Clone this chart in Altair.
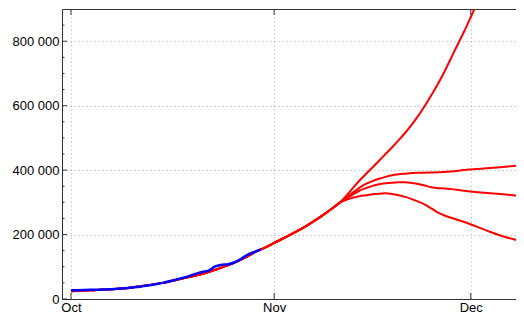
import altair as alt
import pandas as pd

# ---- data (days counted from 1 Oct) ----
blue_days = list(range(0, 30))
blue_values = [27000, 27500, 28000, 28500, 29000, 29500, 30000, 31500, 33000, 35000,
               37000, 40000, 43000, 46500, 50000, 55000, 60000, 65000, 71000, 78000,
               84000, 88000, 101000, 106000, 108000, 114000, 125000, 138000, 146000, 154000]

trunk_days = [0, 3, 6, 9, 11, 14, 16, 18, 21, 24, 27, 28, 30, 31, 34, 36, 38, 40, 41]
trunk_values = [24000, 27000, 30000, 35000, 40000, 50000, 59000, 68000, 84000, 105000,
                133000, 145000, 163000, 174000, 205000, 228000, 254000, 283000, 299000]

exp_days = [42, 43, 44, 45, 46, 47, 48, 49, 50, 51, 52, 53, 54, 55, 56, 57, 58, 59, 60, 61, 62, 63]
exp_values = [320000, 344000, 367000, 388000, 408000, 429000, 450000, 471000, 493000, 516000,
              541000, 569000, 600000, 633000, 668000, 706000, 748000, 790000, 831000, 875000,
              920000, 968000]

top_days = [42, 43, 44, 45, 46, 47, 48, 49, 50, 51, 52, 54, 56, 58, 60, 63, 66, 69]
top_values = [314000, 330000, 345000, 357000, 366000, 373000, 379000, 384000, 387000, 389000,
              391000, 392000, 393000, 396000, 400000, 405000, 410000, 415000]

mid_days = [42, 43, 44, 45, 46, 47, 48, 49, 50, 51, 52, 53, 54, 55, 56, 57, 58, 60, 63, 66, 69]
mid_values = [311000, 324000, 336000, 344000, 351000, 356000, 359000, 361000, 362000, 362000,
              360000, 357000, 352000, 347000, 344000, 343000, 341000, 336000, 330000, 325000, 319000]

low_days = [42, 43, 44, 45, 46, 47, 48, 49, 50, 51, 52, 53, 54, 55, 56, 57, 58, 60, 62, 64, 66, 69]
low_values = [308000, 314000, 319000, 322000, 325000, 327000, 328000, 326000, 322000, 317000,
              310000, 302000, 293000, 281000, 268000, 259000, 252000, 239000, 224000, 208000,
              194000, 178000]

month_days = [0, 31, 61]
month_labels = ["Oct", "Nov", "Dec"]
y_tick_values = [0, 200000, 400000, 600000, 800000]
y_tick_labels = ["0", "200 000", "400 000", "600 000", "800 000"]
y_minor_values = [50000, 100000, 150000, 250000, 300000, 350000, 450000, 500000, 550000,
                  650000, 700000, 750000, 850000]

# ---- tables ----
rows = []
for name, d, v in [("exp", exp_days, exp_values), ("top", top_days, top_values),
                   ("mid", mid_days, mid_values), ("low", low_days, low_values)]:
    for dd, vv in zip(trunk_days + d, trunk_values + v):
        rows.append({"series": name, "day": dd, "value": vv})
red_df = pd.DataFrame(rows)
blue_df = pd.DataFrame({"day": blue_days, "value": blue_values})
month_df = pd.DataFrame({"day": month_days})
ymaj_df = pd.DataFrame({"v": y_tick_values})
ymin_df = pd.DataFrame({"v": y_minor_values})

def ternary(vals, labels):
    expr = "''"
    for v, l in reversed(list(zip(vals, labels))):
        expr = f"datum.value == {v} ? '{l}' : ({expr})"
    return expr

PLOT_W = 454
PLOT_H = 290
x_scale = alt.Scale(domain=[-1.37, 67.9], nice=False, zero=False)
y_scale = alt.Scale(domain=[0, 900000], nice=False, zero=False)

grid_style = dict(grid=True, gridColor="#a8a8a8", gridDash=[1, 3], gridWidth=1)

red = alt.Chart(red_df).mark_line(color="#ff0000", strokeWidth=2, clip=True,
                                  interpolate="monotone").encode(
    x=alt.X("day:Q", scale=x_scale,
            axis=alt.Axis(values=month_days, labelExpr=ternary(month_days, month_labels),
                          ticks=False, labelPadding=2, title=None, orient="bottom",
                          **grid_style)),
    y=alt.Y("value:Q", scale=y_scale,
            axis=alt.Axis(values=y_tick_values, labelExpr=ternary(y_tick_values, y_tick_labels),
                          ticks=False, labelPadding=3, title=None, orient="left",
                          **grid_style)),
    detail="series:N",
)

blue = alt.Chart(blue_df).mark_line(color="#0000ff", strokeWidth=2.5, clip=True,
                                    interpolate="monotone").encode(
    x=alt.X("day:Q", scale=x_scale, axis=None),
    y=alt.Y("value:Q", scale=y_scale, axis=None),
)

ymaj = alt.Chart(ymaj_df).mark_rule(color="#333333", strokeWidth=1).encode(
    y=alt.Y("v:Q", scale=y_scale, axis=None), x=alt.value(0), x2=alt.value(5))
ymin = alt.Chart(ymin_df).mark_rule(color="#333333", strokeWidth=1).encode(
    y=alt.Y("v:Q", scale=y_scale, axis=None), x=alt.value(0), x2=alt.value(2.5))
xbot = alt.Chart(month_df).mark_rule(color="#333333", strokeWidth=1).encode(
    x=alt.X("day:Q", scale=x_scale, axis=None), y=alt.value(PLOT_H), y2=alt.value(PLOT_H - 6))
xtop = alt.Chart(month_df).mark_rule(color="#333333", strokeWidth=1).encode(
    x=alt.X("day:Q", scale=x_scale,
            axis=alt.Axis(orient="top", labels=False, ticks=False, grid=False,
                          domain=True, title=None)),
    y=alt.value(0), y2=alt.value(6))

chart = alt.layer(red, blue, ymaj, ymin, xbot, xtop).resolve_axis(
    x="independent", y="independent"
).properties(
    width=PLOT_W, height=PLOT_H,
    padding={"left": 54, "top": 1, "right": 0, "bottom": 19},
    autosize=alt.AutoSizeParams(type="none"),
).configure_view(stroke=None).configure_axis(
    domainColor="#333333", domainWidth=1, labelFont="Liberation Sans",
    labelFontSize=13, labelColor="#000000",
)

chart.save("out.html", embed_options={"renderer": "svg", "actions": False})
